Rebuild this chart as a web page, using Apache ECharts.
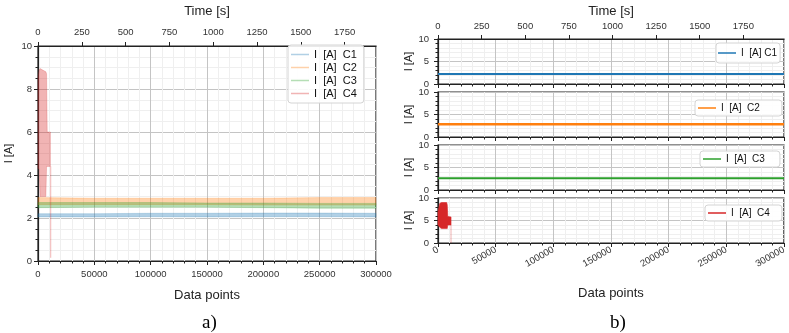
<!DOCTYPE html>
<html>
<head>
<meta charset="utf-8">
<script src="https://cdn.jsdelivr.net/npm/echarts@6/dist/echarts.min.js"></script>
<style>
  html, body { margin: 0; padding: 0; background: #fff; }
  #chart { width: 789px; height: 333px; }
</style>
</head>
<body>
<div id="chart"></div>
<script>
// --- data ---
// panel a) : noisy bands, low / high envelope per channel
const aX = [0, 50000, 100000, 150000, 200000, 250000, 300000]
const aC1Lo = [2.05, 2.05, 2.06, 2.05, 2.06, 2.06, 2.05]
const aC1Hi = [2.20, 2.20, 2.22, 2.22, 2.23, 2.23, 2.22]
const aC2Lo = [2.62, 2.62, 2.62, 2.62, 2.60, 2.60, 2.60]
const aC2Hi = [2.95, 2.92, 2.92, 2.92, 2.92, 2.95, 2.95]
const aC3Lo = [2.48, 2.50, 2.50, 2.50, 2.48, 2.45, 2.45]
const aC3Hi = [2.72, 2.72, 2.72, 2.70, 2.70, 2.68, 2.68]
const aC4X = [0, 1000, 1800, 7000, 7600, 8200, 10500, 11000]
const aC4Hi = [8.5, 8.9, 8.95, 8.8, 8.7, 6.0, 6.0, 6.0]
const aC4Lo = [4.3, 4.3, 3.0, 3.0, 4.4, 4.4, 4.4, 4.4]
const aC4TailX = [11300, 11300]
const aC4TailY = [4.4, 0.15]

// panel b) : one channel per subplot
const bX = [0, 100000, 200000, 300000]
const bC1 = [2.2, 2.2, 2.2, 2.2]
const bC2 = [2.85, 2.85, 2.85, 2.85]
const bC3 = [2.6, 2.6, 2.6, 2.6]
const bC4X = [0, 1500, 3000, 7500, 8000, 8500, 11000, 11300]
const bC4Hi = [7.0, 8.8, 9.0, 9.0, 8.5, 5.9, 5.8, 5.8]
const bC4Lo = [4.0, 3.5, 3.2, 3.2, 3.2, 4.0, 4.0, 4.0]
const bC4TailX = [11300, 11300]
const bC4TailY = [4.0, 0.0]

const timeMaxA = 1929
const timeMaxB = 1983
const legendA = ['I  [A]  C1', 'I  [A]  C2', 'I  [A]  C3', 'I  [A]  C4']
const legendB = ['I  [A] C1', 'I  [A]  C2', 'I  [A]  C3', 'I  [A]  C4']

const colors = ['#1f77b4', '#ff7f0e', '#2ca02c', '#d62728']
const light = ['rgba(31,119,180,0.35)', 'rgba(255,127,14,0.35)', 'rgba(44,160,44,0.35)', 'rgba(214,39,40,0.35)']

const FONT = 'Liberation Sans'
const chart = echarts.init(document.getElementById('chart'))

function pairs (xs, ys) {
  return xs.map((x, i) => [x, ys[i]])
}

// filled band between low and high envelopes, one polygon through the axis scales
function band (name, xs, lo, hi, color, xi, yi) {
  return {
    name: name,
    type: 'custom',
    xAxisIndex: xi,
    yAxisIndex: yi,
    color: color,
    itemStyle: { color: color },
    data: xs.map((x, i) => [x, lo[i], hi[i]]),
    renderItem: (params, api) => {
      if (params.dataIndex !== 0) return null
      const top = xs.map((x, i) => api.coord([x, hi[i]]))
      const bottom = xs.map((x, i) => api.coord([x, lo[i]])).reverse()
      return {
        type: 'polygon',
        shape: { points: top.concat(bottom) },
        style: { fill: color, stroke: color, lineWidth: 0.6 }
      }
    }
  }
}

function line (name, xs, ys, color, width, xi, yi) {
  return {
    name: name,
    type: 'line',
    xAxisIndex: xi,
    yAxisIndex: yi,
    symbol: 'none',
    color: color,
    lineStyle: { width: width, color: color },
    data: pairs(xs, ys)
  }
}

const plain = v => String(v)
const tickLabel = { fontFamily: FONT, fontSize: 9.5, color: '#333', formatter: plain }
const nameStyle = { fontFamily: FONT, fontSize: 13, color: '#222' }
const frame = { show: true, lineStyle: { color: '#222', width: 1.2 } }
const major = { show: true, lineStyle: { color: '#c4c4c4', width: 1 } }
const minor = { show: true, lineStyle: { color: '#efefef', width: 1 } }

function dataAxis (gi, showLabels, extra) {
  return Object.assign({
    type: 'value',
    gridIndex: gi,
    position: 'bottom',
    min: 0,
    max: 300000,
    interval: 50000,
    axisLine: frame,
    axisTick: { show: true, length: 4, lineStyle: { color: '#222' } },
    minorTick: { show: true, splitNumber: 5, length: 2.5, lineStyle: { color: '#222' } },
    splitLine: major,
    minorSplitLine: minor,
    axisLabel: Object.assign({ show: showLabels, margin: 8 }, tickLabel)
  }, extra || {})
}

function timeAxis (gi, max, margin, gap) {
  return {
    type: 'value',
    gridIndex: gi,
    position: 'top',
    min: 0,
    max: max,
    interval: 250,
    name: 'Time [s]',
    nameLocation: 'middle',
    nameGap: gap,
    nameTextStyle: nameStyle,
    axisLine: frame,
    axisTick: { show: true, length: 4, lineStyle: { color: '#222' } },
    splitLine: { show: false },
    axisLabel: Object.assign({ margin: margin, showMaxLabel: false }, tickLabel)
  }
}

function currentAxis (gi, interval, minorSplit, margin) {
  return {
    type: 'value',
    gridIndex: gi,
    min: 0,
    max: 10,
    interval: interval,
    name: 'I [A]',
    nameLocation: 'middle',
    nameGap: 24,
    nameTextStyle: { fontFamily: FONT, fontSize: 11, color: '#222' },
    axisLine: frame,
    axisTick: { show: true, length: 4, lineStyle: { color: '#222' } },
    minorTick: { show: true, splitNumber: minorSplit, length: 2.5, lineStyle: { color: '#222' } },
    splitLine: major,
    minorSplitLine: minor,
    axisLabel: Object.assign({ margin: margin }, tickLabel)
  }
}

const gridB = [39, 92, 145, 198]
const legendLeftB = [716, 695, 700, 705]
const legendTopB = [43, 100, 151, 205]
const legendPadB = [[5, 3, 5, 2], [3, 22, 3, 3], [3, 15, 3, 3], [3, 12, 3, 3]]

const legendBase = {
  orient: 'vertical',
  icon: 'rect',
  itemWidth: 18,
  itemHeight: 1.5,
  backgroundColor: 'rgba(255,255,255,0.9)',
  borderColor: '#d4d4d4',
  borderWidth: 1,
  borderRadius: 3,
  selectedMode: false,
  textStyle: { fontFamily: FONT, fontSize: 10, color: '#111' }
}

const option = {
  animation: false,
  backgroundColor: '#fff',
  title: [
    { text: 'a)', left: 197, top: 309, textStyle: { fontFamily: 'Liberation Serif', fontSize: 19, fontWeight: 'normal', color: '#000' } },
    { text: 'b)', left: 605, top: 309, textStyle: { fontFamily: 'Liberation Serif', fontSize: 19, fontWeight: 'normal', color: '#000' } }
  ],
  grid: [
    { left: 38, top: 42, width: 338, height: 219, show: true, borderColor: '#222', borderWidth: 1.2 }
  ].concat(gridB.map(t => ({ left: 438, top: t, width: 346, height: 45, show: true, borderColor: '#222', borderWidth: 1.2 }))),
  legend: [
    Object.assign({}, legendBase, {
      left: 288, top: 45, itemGap: 2, padding: [4, 7, 4, 3],
      data: ['aC1', 'aC2', 'aC3', 'aC4'],
      textStyle: { fontFamily: FONT, fontSize: 11, color: '#111' },
      formatter: n => legendA[+n.slice(2) - 1]
    })
  ].concat([0, 1, 2, 3].map(i => Object.assign({}, legendBase, {
    left: legendLeftB[i], top: legendTopB[i], padding: legendPadB[i],
    data: ['bC' + (i + 1)],
    formatter: n => legendB[+n.slice(2) - 1]
  }))),
  xAxis: [
    dataAxis(0, true, { name: 'Data points', nameLocation: 'middle', nameGap: 28, nameTextStyle: nameStyle }),
    timeAxis(0, timeMaxA, 9, 28),
    dataAxis(1, false),
    dataAxis(2, false),
    dataAxis(3, false),
    dataAxis(4, true, {
      name: 'Data points', nameLocation: 'middle', nameGap: 44, nameTextStyle: nameStyle,
      axisLabel: Object.assign({ rotate: 30, margin: 6 }, tickLabel)
    }),
    timeAxis(1, timeMaxB, 8, 21)
  ],
  yAxis: [
    currentAxis(0, 2, 4, 6),
    currentAxis(1, 5, 5, 9),
    currentAxis(2, 5, 5, 9),
    currentAxis(3, 5, 5, 9),
    currentAxis(4, 5, 5, 9)
  ],
  series: [
    band('aC1', aX, aC1Lo, aC1Hi, light[0], 0, 0),
    band('aC2', aX, aC2Lo, aC2Hi, light[1], 0, 0),
    band('aC3', aX, aC3Lo, aC3Hi, light[2], 0, 0),
    band('aC4', aC4X, aC4Lo, aC4Hi, light[3], 0, 0),
    line('aC4_tail', aC4TailX, aC4TailY, light[3], 1, 0, 0),
    line('bC1', bX, bC1, colors[0], 2, 2, 1),
    line('bC2', bX, bC2, colors[1], 2.5, 3, 2),
    line('bC3', bX, bC3, colors[2], 2, 4, 3),
    band('bC4', bC4X, bC4Lo, bC4Hi, colors[3], 5, 4),
    line('bC4_tail', bC4TailX, bC4TailY, light[3], 1, 5, 4)
  ]
}

chart.setOption(option)
</script>
</body>
</html>
